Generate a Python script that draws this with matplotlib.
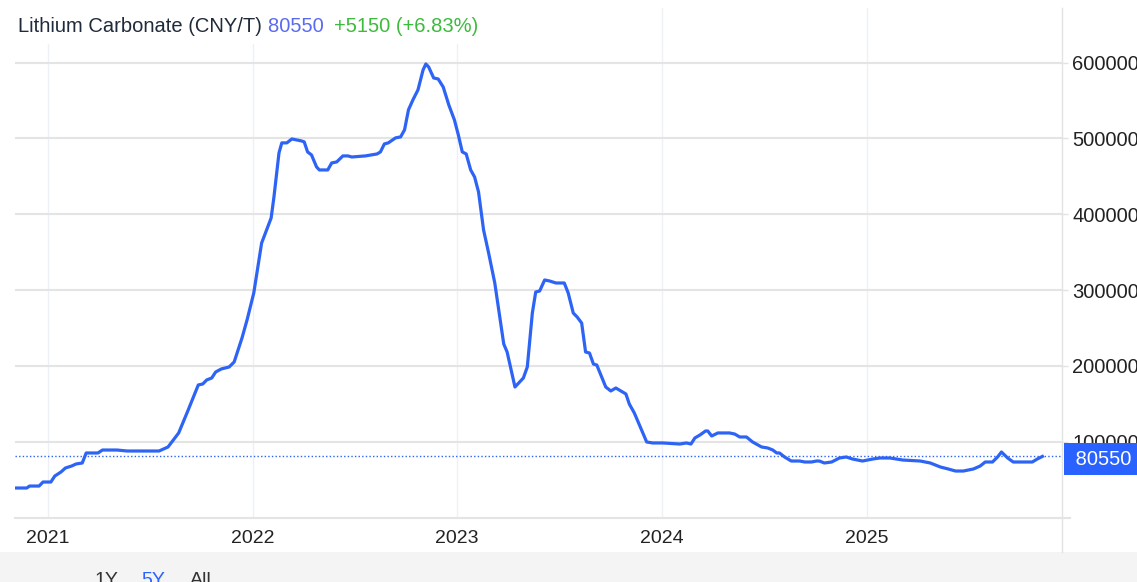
import matplotlib

matplotlib.use("Agg")
import matplotlib.pyplot as plt
import matplotlib.dates as mdates
from matplotlib.lines import Line2D
from matplotlib.patches import Rectangle
from matplotlib.text import Annotation
import pandas as pd

# price series (CNY/T)
dates = [
    "2020-11-03", "2020-11-24", "2020-11-29", "2020-12-16", "2020-12-23",
    "2021-01-06", "2021-01-13", "2021-01-24", "2021-02-01", "2021-02-12",
    "2021-02-20", "2021-03-03", "2021-03-10", "2021-03-31", "2021-04-08",
    "2021-05-04", "2021-05-22", "2021-07-18", "2021-08-03", "2021-08-22",
    "2021-09-08", "2021-09-26", "2021-10-04", "2021-10-11", "2021-10-20",
    "2021-10-27", "2021-11-06", "2021-11-20", "2021-11-29", "2021-12-13",
    "2021-12-22", "2022-01-03", "2022-01-17", "2022-02-03", "2022-02-08",
    "2022-02-17", "2022-02-22", "2022-03-03", "2022-03-12", "2022-03-29",
    "2022-04-03", "2022-04-09", "2022-04-16", "2022-04-25", "2022-04-30",
    "2022-05-15", "2022-05-22", "2022-05-31", "2022-06-11", "2022-06-20",
    "2022-06-27", "2022-07-21", "2022-08-11", "2022-08-17", "2022-08-24",
    "2022-08-31", "2022-09-13", "2022-09-22", "2022-09-29", "2022-10-06",
    "2022-10-14", "2022-10-23", "2022-11-01", "2022-11-06", "2022-11-11",
    "2022-11-20", "2022-11-28", "2022-12-07", "2022-12-17", "2022-12-27",
    "2023-01-03", "2023-01-10", "2023-01-17", "2023-01-25", "2023-02-01",
    "2023-02-08", "2023-02-17", "2023-02-26", "2023-03-09", "2023-03-25",
    "2023-03-31", "2023-04-14", "2023-04-29", "2023-05-06", "2023-05-15",
    "2023-05-21", "2023-05-28", "2023-06-06", "2023-06-15", "2023-06-26",
    "2023-07-11", "2023-07-18", "2023-07-27", "2023-08-03", "2023-08-11",
    "2023-08-18", "2023-08-25", "2023-09-01", "2023-09-07", "2023-09-23",
    "2023-10-02", "2023-10-11", "2023-10-20", "2023-10-29", "2023-11-04",
    "2023-11-13", "2023-11-26", "2023-12-05", "2023-12-16", "2024-01-03",
    "2024-02-02", "2024-02-14", "2024-02-22", "2024-02-29", "2024-03-09",
    "2024-03-19", "2024-03-23", "2024-03-30", "2024-04-10", "2024-05-01",
    "2024-05-10", "2024-05-19", "2024-05-31", "2024-06-11", "2024-06-27",
    "2024-07-08", "2024-07-17", "2024-07-24", "2024-07-29", "2024-08-07",
    "2024-08-19", "2024-09-03", "2024-09-12", "2024-09-24", "2024-10-03",
    "2024-10-08", "2024-10-17", "2024-10-30", "2024-11-13", "2024-11-25",
    "2024-12-06", "2024-12-24", "2025-01-12", "2025-01-24", "2025-02-11",
    "2025-03-06", "2025-04-06", "2025-04-24", "2025-05-12", "2025-05-26",
    "2025-06-08", "2025-06-22", "2025-07-10", "2025-07-22", "2025-07-31",
    "2025-08-13", "2025-08-22", "2025-08-29", "2025-09-09", "2025-09-19",
    "2025-10-02", "2025-10-23", "2025-11-01", "2025-11-10",
]
prices = [
    38900, 38900, 41500, 41500, 46800,
    46800, 54700, 60000, 65300, 67900,
    70600, 71900, 85100, 85100, 89000,
    89000, 87700, 87700, 93000, 111500,
    141800, 174800, 176100, 181400, 184000,
    191900, 195900, 198500, 205100, 236800,
    260500, 296100, 362000, 395100, 422800,
    480900, 494100, 494100, 499300, 496700,
    495400, 482200, 478200, 462400, 458400,
    458400, 467600, 469000, 476900, 476900,
    475500, 476900, 479500, 482200, 492700,
    494100, 500700, 502000, 511300, 537700,
    550900, 564100, 590200, 598200, 594200,
    579700, 578400, 567800, 544100, 524300,
    504500, 482200, 479500, 458400, 449100,
    429400, 379200, 348900, 309300, 228800,
    218300, 172100, 184000, 198500, 269700,
    297400, 298700, 313300, 311900, 309300,
    309300, 296100, 269700, 264400, 256500,
    218300, 216900, 202400, 201100, 172100,
    166900, 170800, 166900, 162900, 149700,
    137800, 115400, 99600, 98300, 98300,
    96900, 98300, 96900, 104900, 108800,
    114100, 114100, 107500, 111500, 111500,
    110100, 106200, 106200, 99600, 93000,
    91700, 89000, 85100, 85100, 79800,
    74500, 74500, 73200, 73200, 74500,
    74500, 71900, 73200, 78500, 79800,
    77200, 74500, 77200, 78500, 78500,
    75800, 74500, 71900, 66600, 64000,
    61300, 61300, 64000, 67900, 73200,
    73200, 79800, 86400, 78500, 73200,
    73200, 73200, 77200, 80550,
]
last_price = 80550
change = 5150
change_pct = 6.83
y_ticks = [100000, 200000, 300000, 400000, 500000, 600000]
year_ticks = ["2021-01-01", "2022-01-01", "2023-01-01", "2024-01-01", "2025-01-01"]
ranges = ["1Y", "5Y", "All"]

LINE = "#2d64f5"
W, H = 1137, 582

plt.rcParams["font.family"] = ["Liberation Sans", "DejaVu Sans"]

fig = plt.figure(figsize=(W / 100, H / 100), dpi=100)

# plot area in pixels: x 15..1062, y 8..517.5
ax = fig.add_axes([15 / W, (H - 517.5) / H, (1062 - 15) / W, (517.5 - 8) / H])

x = pd.to_datetime(dates)
ax.plot(x, prices, color=LINE, linewidth=2.3, solid_joinstyle="round", zorder=3)
ax.axhline(last_price, color=LINE, linestyle=(0, (1, 1.6)), linewidth=1.0, zorder=2)

ax.set_xlim(pd.Timestamp("2020-11-03"), pd.Timestamp("2025-12-15"))
ax.set_ylim(0, 672000)

ax.set_yticks(y_ticks)
ax.set_yticklabels([str(v) for v in y_ticks])
ax.yaxis.tick_right()
ax.tick_params(axis="y", length=4.5, width=1, color="#e3e3e3", pad=3,
               labelsize=14.5, labelcolor="#222222")

ax.set_xticks(pd.to_datetime(year_ticks))
ax.xaxis.set_major_formatter(mdates.DateFormatter("%Y"))
ax.tick_params(axis="x", length=0, pad=9, labelsize=14, labelcolor="#222222")

ax.grid(axis="y", color="#e4e4e4", linewidth=1.5)
ax.grid(axis="x", color="#edf1f6", linewidth=1.0)
for s in ax.spines.values():
    s.set_visible(False)

# bottom baseline and right axis separator
fig.add_artist(Line2D([15 / W, 1070 / W], [(H - 517.5) / H] * 2,
                      color="#e4e4e4", linewidth=1.5))
fig.add_artist(Line2D([1062 / W] * 2, [(H - 8) / H, (H - 552) / H],
                      color="#e3e3e3", linewidth=1.0))

# last price box on the right axis
ax.annotate(f" {last_price} ", xy=(1.0, last_price),
            xycoords=("axes fraction", "data"),
            xytext=(8, -3), textcoords="offset pixels",
            ha="left", va="center", fontsize=14.5, color="white",
            bbox=dict(boxstyle="square,pad=0.32", facecolor="#2962ff",
                      edgecolor="none"),
            annotation_clip=False, zorder=6)

# header (white background hides the grid under it)
fig.add_artist(Rectangle((0, (H - 44) / H), 486 / W, 36 / H,
                         transform=fig.transFigure, facecolor="white",
                         edgecolor="none", zorder=4))
t1 = fig.text(18 / W, (H - 27) / H, "Lithium Carbonate (CNY/T) ",
              fontsize=14.5, color="#1f2a3a", va="center", zorder=5)
t2 = fig.add_artist(Annotation(f"{last_price}  ", xy=(1, 0), xycoords=t1,
                               va="bottom", fontsize=14.5, color="#5a6bf0",
                               zorder=5))
t3 = fig.add_artist(Annotation(f"+{change} (+{change_pct:.2f}%)", xy=(1, 0),
                               xycoords=t2, va="bottom", fontsize=14.5,
                               color="#3dbb3d", zorder=5))

# range selector strip at the bottom
fig.add_artist(Rectangle((0, 0), 1, (H - 552) / H, transform=fig.transFigure,
                         facecolor="#f4f4f4", edgecolor="none", zorder=1))
range_x = [94, 141, 190]
for label, px in zip(ranges, range_x):
    fig.text(px / W, (H - 572) / H, label, fontsize=14,
             color="#2962ff" if label == "5Y" else "#333333",
             va="top", ha="left", zorder=5)

fig.savefig("out.png", dpi=100, facecolor="white")
